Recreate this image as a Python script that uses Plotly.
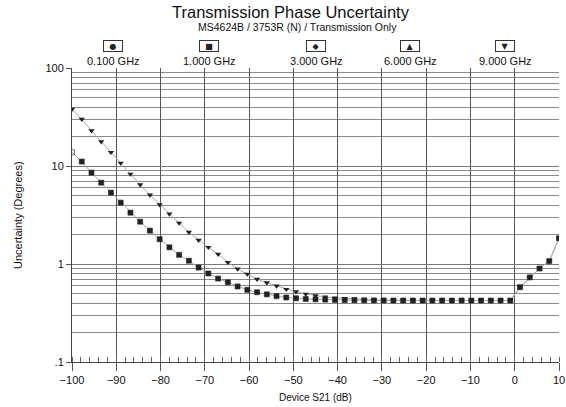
import plotly.graph_objects as go

# ---- data ----
device_s21_db = [-100.0, -97.8, -95.6, -93.4, -91.2, -89.0, -86.8, -84.6, -82.4, -80.2,
                 -78.0, -75.8, -73.6, -71.4, -69.2, -67.0, -64.8, -62.6, -60.4, -58.2,
                 -56.0, -53.8, -51.6, -49.4, -47.2, -45.0, -42.8, -40.6, -38.4, -36.2,
                 -34.0, -31.8, -29.6, -27.4, -25.2, -23.0, -20.8, -18.6, -16.4, -14.2,
                 -12.0, -9.8, -7.6, -5.4, -3.2, -1.0, 1.2, 3.4, 5.6, 7.8, 10.0]

# 0.1 / 1 / 3 / 6 GHz curves coincide (squares drawn on top)
low_freq_uncert = [13.8, 11.1, 8.55, 6.76, 5.35, 4.23, 3.34, 2.70, 2.19, 1.79,
                   1.48, 1.24, 1.08, 0.92, 0.80, 0.71, 0.65, 0.59, 0.545, 0.515,
                   0.49, 0.47, 0.455, 0.447, 0.44, 0.436, 0.433, 0.43, 0.428, 0.427,
                   0.426, 0.425, 0.425, 0.424, 0.424, 0.424, 0.424, 0.424, 0.424, 0.424,
                   0.424, 0.424, 0.424, 0.424, 0.424, 0.424, 0.58, 0.73, 0.90, 1.07, 1.83]

# 9 GHz curve
ghz9_uncert = [38.0, 30.0, 22.9, 17.7, 13.8, 10.7, 8.28, 6.44, 5.06, 4.03,
               3.24, 2.62, 2.11, 1.75, 1.48, 1.26, 1.04, 0.89, 0.79, 0.70,
               0.644, 0.597, 0.552, 0.521, 0.494, 0.475, 0.462, 0.452, 0.445, 0.44,
               0.436, 0.43, 0.428, 0.426, 0.425, 0.424, 0.424, 0.424, 0.424, 0.424,
               0.424, 0.424, 0.424, 0.424, 0.424, 0.424, 0.58, 0.73, 0.90, 1.07, 1.83]

legend_labels = ["0.100 GHz", "1.000 GHz", "3.000 GHz", "6.000 GHz", "9.000 GHz"]
legend_glyphs = ["\u25CF", "\u25A0", "\u25C6", "\u25B2", "\u25BC"]
legend_x = [113, 209, 316, 410, 505]  # pixel centres above the plot

x_tickvals = [-100, -90, -80, -70, -60, -50, -40, -30, -20, -10, 0, 10]
y_tickvals = [0.1, 1, 10, 100]
y_ticktext = [".1", "1", "10", "100"]
y_minor = [0.2, 0.3, 0.4, 0.5, 0.6, 0.7, 0.8, 0.9,
           2, 3, 4, 5, 6, 7, 8, 9, 20, 30, 40, 50, 60, 70, 80, 90]

FONT = "Arial, Liberation Sans, sans-serif"
TXT = "#111111"
W, H = 566, 407
L, R, T, B = 72, 7, 68, 45


def px_x(px):
    return (px - L) / (W - L - R)


def px_y(py):
    return (H - B - py) / (H - T - B)


fig = go.Figure()

fig.add_trace(go.Scatter(
    x=device_s21_db, y=ghz9_uncert, mode="lines+markers", name="9.000 GHz",
    line=dict(color="#aaaaaa", width=1),
    marker=dict(symbol="triangle-down", size=5.5, color="#222222"),
    cliponaxis=True))

low_symbols = ["square-open"] + ["square"] * (len(low_freq_uncert) - 1)
fig.add_trace(go.Scatter(
    x=device_s21_db, y=low_freq_uncert, mode="lines+markers", name="1.000 GHz",
    line=dict(color="#aaaaaa", width=1),
    marker=dict(symbol=low_symbols, size=5, color="#222222",
                line=dict(width=0.6, color="#222222")),
    cliponaxis=True))

annotations = [
    dict(text="Transmission Phase Uncertainty", x=px_x(291), y=px_y(12),
         font=dict(size=16.5, color=TXT, family=FONT)),
    dict(text="MS4624B / 3753R (N) / Transmission Only", x=px_x(297), y=px_y(27),
         font=dict(size=10.5, color=TXT, family=FONT)),
    dict(text="Uncertainty (Degrees)", x=px_x(18), y=px_y(215), textangle=-90,
         font=dict(size=11, color=TXT, family=FONT)),
    dict(text="Device S21 (dB)", x=px_x(315), y=px_y(397),
         font=dict(size=10, color=TXT, family=FONT)),
]

for lab, g, cx in zip(legend_labels, legend_glyphs, legend_x):
    annotations.append(dict(
        text=g, x=px_x(cx), y=px_y(46.5),
        font=dict(size=8, color="#222222", family="DejaVu Sans"),
        bordercolor="#333333", borderwidth=1, borderpad=0, width=18, height=10,
        bgcolor="white"))
    annotations.append(dict(
        text=lab, x=px_x(cx), y=px_y(60.5),
        font=dict(size=11, color=TXT, family=FONT)))

for a in annotations:
    a.update(xref="paper", yref="paper", showarrow=False,
             xanchor="center", yanchor="middle")

fig.update_layout(
    width=W, height=H,
    margin=dict(l=L, r=R, t=T, b=B, pad=0, autoexpand=False),
    paper_bgcolor="white", plot_bgcolor="white",
    showlegend=False,
    font=dict(family=FONT, size=11, color=TXT),
    annotations=annotations,
)

fig.update_xaxes(
    range=[-100, 10], tickvals=x_tickvals, automargin=False,
    showgrid=True, gridcolor="#555555", gridwidth=1,
    ticks="outside", ticklen=8, tickcolor="#555555",
    showline=True, linecolor="#444444", linewidth=1, mirror=False,
    zeroline=False,
    minor=dict(dtick=2, ticks="inside", ticklen=5, tickcolor="#666666", showgrid=False),
    tickfont=dict(size=11, family=FONT, color=TXT),
)

fig.update_yaxes(
    type="log", range=[-1, 2], tickvals=y_tickvals, ticktext=y_ticktext,
    automargin=False,
    showgrid=True, gridcolor="#777777", gridwidth=1,
    ticks="outside", ticklen=5, tickcolor="#555555",
    showline=True, linecolor="#444444", linewidth=1,
    zeroline=False,
    minor=dict(tickvals=y_minor, showgrid=True, gridcolor="#8a8a8a", gridwidth=1, ticks=""),
    tickfont=dict(size=11, family=FONT, color=TXT),
)

fig.write_html("out.html",
               config={"displayModeBar": False, "staticPlot": True},
               post_script="document.body.style.margin='0px';"
                           "document.body.style.overflow='hidden';")
